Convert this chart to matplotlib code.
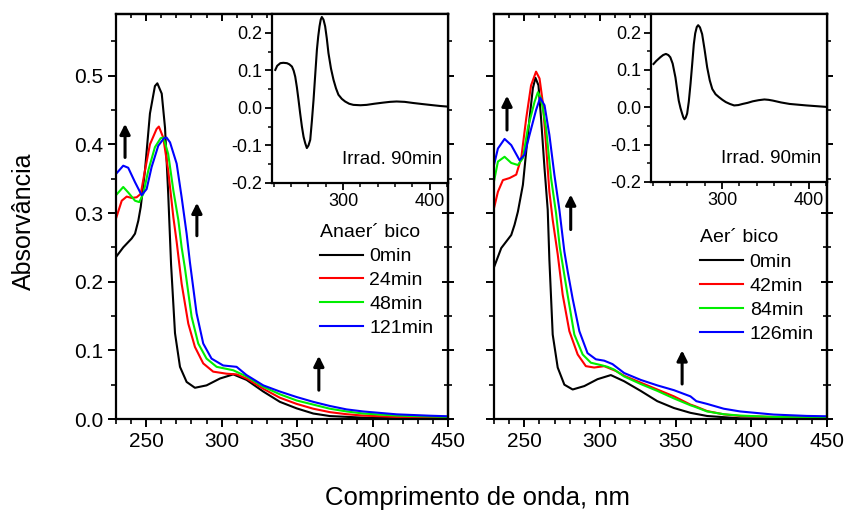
import matplotlib
matplotlib.use("Agg")
import matplotlib.pyplot as plt
from matplotlib.ticker import MultipleLocator, FormatStrFormatter

plt.rcParams['font.family'] = ['Liberation Sans', 'DejaVu Sans']
plt.rcParams['axes.linewidth'] = 1.6

# ---- dados (nm, absorvancia) ----
# painel esquerdo: anaerobico
an_0_wl = [230, 234.8, 240.4, 242.6, 244.8, 246.4, 249.2, 252.5, 255.8, 257.4, 260.3, 262.5, 264.6, 266.5,
           269.1, 272.4, 276.8, 282.3, 290, 298.9, 307.7, 316.5, 327.6, 338.6, 349.7, 360.7, 371.7, 393.8, 420, 450]
an_0_abs = [0.236, 0.25, 0.263, 0.27, 0.289, 0.309, 0.362, 0.445, 0.485, 0.489, 0.474, 0.424, 0.328, 0.225,
            0.125, 0.076, 0.054, 0.0455, 0.049, 0.059, 0.065, 0.057, 0.040, 0.025, 0.0155, 0.008, 0.0043, 0.002, 0.001, 0.0005]

an_24_wl = [230, 233.8, 237.1, 240.4, 243.7, 246.4, 249.2, 252.5, 256.9, 258.4, 261.3, 264.6, 268, 270.2,
            273.5, 277.9, 282.3, 287.8, 294.4, 303.3, 310, 316.5, 327.6, 338.6, 349.7, 360.7, 371.7, 382.8, 393.8, 416, 450]
an_24_abs = [0.292, 0.318, 0.324, 0.322, 0.323, 0.328, 0.362, 0.40, 0.4225, 0.426, 0.41, 0.362, 0.294, 0.258,
             0.197, 0.139, 0.105, 0.081, 0.069, 0.066, 0.065, 0.059, 0.044, 0.031, 0.022, 0.015, 0.010, 0.007, 0.005, 0.003, 0.002]

an_48_wl = [230, 234.8, 238.1, 242.6, 245.4, 248.1, 251.4, 255.8, 259.6, 261.5, 264.6, 268, 271.3, 273.5,
            275.6, 280.1, 284.5, 290, 296.7, 307.7, 316.5, 327.6, 338.6, 349.7, 360.7, 371.7, 382.8, 393.8, 416, 450]
an_48_abs = [0.326, 0.338, 0.33, 0.318, 0.316, 0.328, 0.362, 0.396, 0.409, 0.41, 0.386, 0.333, 0.29, 0.25,
             0.221, 0.149, 0.11, 0.088, 0.076, 0.071, 0.062, 0.047, 0.036, 0.027, 0.021, 0.015, 0.011, 0.008, 0.005, 0.003]

an_121_wl = [230, 234.8, 238.1, 242.6, 247, 250.3, 253.6, 258, 261.8, 263.5, 265.8, 270.2, 273.5, 276.8, 279,
             283.4, 287.8, 293.3, 301, 309.9, 316.5, 327.6, 338.6, 349.7, 360.7, 371.7, 382.8, 393.8, 416, 438, 450]
an_121_abs = [0.357, 0.369, 0.366, 0.345, 0.326, 0.335, 0.367, 0.398, 0.409, 0.41, 0.403, 0.372, 0.323, 0.27, 0.228,
              0.154, 0.11, 0.088, 0.078, 0.076, 0.064, 0.049, 0.040, 0.032, 0.025, 0.019, 0.014, 0.011, 0.0068, 0.0048, 0.004]

# painel direito: aerobico
ae_0_wl = [230, 234.8, 241.4, 243.6, 245.8, 249.1, 251.3, 253.5, 255.7, 257.4, 259.4, 261.1, 263.4, 265.5, 266.6,
           268.8, 272.1, 276.5, 282, 289.7, 298.4, 307.2, 316, 326.9, 337.9, 348.9, 359.8, 370.8, 392.7, 450]
ae_0_abs = [0.221, 0.249, 0.268, 0.283, 0.302, 0.341, 0.39, 0.438, 0.482, 0.497, 0.486, 0.438, 0.365, 0.305, 0.232,
            0.123, 0.075, 0.050, 0.043, 0.048, 0.058, 0.064, 0.055, 0.041, 0.026, 0.016, 0.009, 0.0044, 0.001, 0.0]

ae_42_wl = [230, 232.6, 235.9, 240.3, 244.7, 248, 251.3, 254.5, 257.8, 260.1, 262.2, 264.4, 266.6, 268.8, 272.1,
            275.4, 279.8, 285.3, 290.7, 296.2, 302.8, 310.5, 316, 326.9, 337.9, 348.9, 359.8, 362.5, 370.8, 381.8,
            392.7, 414.7, 450]
ae_42_abs = [0.307, 0.331, 0.348, 0.351, 0.356, 0.38, 0.438, 0.486, 0.506, 0.496, 0.462, 0.399, 0.331, 0.29, 0.24,
             0.181, 0.128, 0.094, 0.077, 0.075, 0.077, 0.070, 0.063, 0.053, 0.043, 0.033, 0.021, 0.019, 0.0116, 0.0068,
             0.0044, 0.003, 0.002]

ae_84_wl = [230, 232.6, 237, 241.4, 245.8, 249.1, 252.4, 256.8, 259, 261.1, 264.4, 267.7, 271, 273.5, 278.7,
            283.1, 288.6, 294, 301.7, 305, 309.4, 316, 326.9, 337.9, 348.9, 359.8, 362.5, 370.8, 381.8, 392.7, 414.7, 450]
ae_84_abs = [0.346, 0.375, 0.382, 0.373, 0.37, 0.38, 0.424, 0.462, 0.476, 0.467, 0.424, 0.351, 0.30, 0.25, 0.18,
             0.123, 0.094, 0.082, 0.078, 0.076, 0.072, 0.062, 0.051, 0.041, 0.030, 0.020, 0.018, 0.011, 0.007, 0.005, 0.003, 0.002]

ae_126_wl = [230, 232.6, 237, 241.4, 246.9, 250.2, 253.5, 257.8, 260.5, 263.4, 266.6, 269.9, 273.2, 276.5, 278.7,
             282, 286.4, 291.8, 297.3, 302.8, 308.3, 316, 326.9, 337.9, 348.9, 359.8, 363.7, 370.8, 381.8, 392.7,
             414.7, 436.6, 450]
ae_126_abs = [0.37, 0.394, 0.408, 0.399, 0.377, 0.385, 0.414, 0.45, 0.468, 0.457, 0.414, 0.356, 0.305, 0.244, 0.215,
              0.175, 0.128, 0.096, 0.087, 0.085, 0.080, 0.067, 0.057, 0.049, 0.042, 0.033, 0.026, 0.022, 0.015, 0.011,
              0.0065, 0.0045, 0.004]

# insets: espectro diferenca, irradiacao 90 min
in_an_wl = [221.8, 224, 227.6, 231, 235.3, 238, 241, 243, 244.8, 246.7, 248.6, 250.5, 252.5, 254.4, 256.3, 258.2,
            260.1, 262.1, 264, 265.9, 267.9, 269.8, 271.3, 272.8, 274.2, 275.5, 277.4, 279.3, 281.2, 283.1, 286,
            288.9, 291.8, 294.6, 298.5, 302.3, 307, 311.8, 320, 327.2, 336, 346.3, 354, 361.7, 371, 380.8, 392,
            403.8, 412, 420]
in_an_val = [0.101, 0.112, 0.119, 0.120, 0.119, 0.116, 0.110, 0.099, 0.083, 0.055, 0.021, -0.015, -0.05, -0.077,
             -0.094, -0.107, -0.100, -0.085, -0.035, 0.021, 0.09, 0.155, 0.19, 0.217, 0.235, 0.242, 0.235, 0.217,
             0.185, 0.146, 0.105, 0.075, 0.052, 0.035, 0.024, 0.017, 0.011, 0.008, 0.007, 0.008, 0.011, 0.014,
             0.016, 0.017, 0.016, 0.013, 0.010, 0.007, 0.005, 0.0035]

in_ae_wl = [220.9, 224, 228.7, 232, 235.2, 238, 240.3, 243, 246.2, 248, 250, 252, 253.9, 255.3, 256.6, 258, 259.7,
            261.6, 263.6, 265.5, 267.4, 269, 270.8, 272.4, 274.5, 277, 279.8, 282.8, 285.8, 288.7, 292.5, 296.5,
            300.4, 304.3, 309, 313.9, 318.8, 323.7, 329.5, 335.3, 342, 348.8, 353.6, 358.5, 368, 377.9, 387.6,
            397.3, 409, 420.6]
in_ae_val = [0.116, 0.124, 0.134, 0.140, 0.143, 0.140, 0.134, 0.117, 0.080, 0.050, 0.018, -0.002, -0.017, -0.027,
             -0.032, -0.028, -0.017, 0.015, 0.063, 0.115, 0.169, 0.198, 0.215, 0.220, 0.214, 0.196, 0.155, 0.107,
             0.072, 0.049, 0.035, 0.027, 0.020, 0.014, 0.009, 0.005, 0.006, 0.009, 0.012, 0.016, 0.019, 0.021,
             0.020, 0.018, 0.013, 0.009, 0.007, 0.005, 0.003, 0.001]

cores = ['black', '#ff0000', '#00ee00', '#0000ff']
rot_an = ['0min', '24min', '48min', '121min']
rot_ae = ['0min', '42min', '84min', '126min']

# setas (x, y_inicio, y_fim)
setas_an = [(236, 0.381, 0.430), (283.6, 0.267, 0.315), (364.4, 0.042, 0.092)]
setas_ae = [(238.6, 0.421, 0.471), (280.7, 0.276, 0.327), (354.3, 0.051, 0.100)]

fig = plt.figure(figsize=(8.46, 5.14), dpi=100)


def eixo_principal(pos, series, rotulos, titulo, setas, leg_pos, mostrar_y):
    ax = fig.add_axes(pos)
    for (wl, ab), cor, rot in zip(series, cores, rotulos):
        ax.plot(wl, ab, color=cor, lw=1.5, label=rot)
    ax.set_xlim(230, 450)
    ax.set_ylim(0, 0.59)
    ax.xaxis.set_major_locator(MultipleLocator(50))
    ax.xaxis.set_minor_locator(MultipleLocator(10))
    ax.yaxis.set_major_locator(MultipleLocator(0.1))
    ax.yaxis.set_minor_locator(MultipleLocator(0.05))
    ax.yaxis.set_major_formatter(FormatStrFormatter('%.1f'))
    ax.tick_params(which='major', direction='out', length=6, width=1.4, labelsize=15, pad=3)
    ax.tick_params(which='minor', direction='out', length=3.5, width=1.2)
    if not mostrar_y:
        ax.tick_params(axis='y', labelleft=False)
    # ticks espelhados em cima / direita
    sx = ax.secondary_xaxis('top')
    sx.xaxis.set_major_locator(MultipleLocator(50))
    sx.xaxis.set_minor_locator(MultipleLocator(10))
    sx.tick_params(which='major', direction='in', length=5, width=1.4, labeltop=False)
    sx.tick_params(which='minor', direction='in', length=3, width=1.2)
    sy = ax.secondary_yaxis('right')
    sy.yaxis.set_major_locator(MultipleLocator(0.1))
    sy.yaxis.set_minor_locator(MultipleLocator(0.05))
    sy.tick_params(which='major', direction='inout', length=8, width=1.4, labelright=False)
    sy.tick_params(which='minor', direction='inout', length=6, width=1.2)
    for x, y0, y1 in setas:
        ax.annotate('', xy=(x, y1), xytext=(x, y0),
                    arrowprops=dict(arrowstyle='-|>', mutation_scale=15, lw=2.2, color='k',
                                    shrinkA=0, shrinkB=0))
    leg = ax.legend(loc='upper left', bbox_to_anchor=leg_pos, frameon=False, fontsize=14,
                    title=titulo, title_fontsize=14, alignment='left', handlelength=2.2,
                    handletextpad=0.35, labelspacing=0.32, borderpad=0, borderaxespad=0)
    leg._legend_box.sep = 5
    return ax


def inset(pos, wl, val):
    ax = fig.add_axes(pos, zorder=3)
    ax.set_facecolor('white')
    ax.plot(wl, val, color='black', lw=1.5)
    ax.set_xlim(218, 421)
    ax.set_ylim(-0.2, 0.25)
    ax.xaxis.set_major_locator(MultipleLocator(100))
    ax.xaxis.set_minor_locator(MultipleLocator(20))
    ax.yaxis.set_major_locator(MultipleLocator(0.1))
    ax.yaxis.set_minor_locator(MultipleLocator(0.05))
    ax.yaxis.set_major_formatter(FormatStrFormatter('%.1f'))
    ax.tick_params(which='major', direction='out', length=5, width=1.3, labelsize=13, pad=2)
    ax.tick_params(which='minor', direction='out', length=3, width=1.1)
    ax.text(0.965, 0.14, 'Irrad. 90min', transform=ax.transAxes, ha='right', va='center', fontsize=13.5)
    return ax


eixo_principal([0.1371, 0.1848, 0.3925, 0.788],
               [(an_0_wl, an_0_abs), (an_24_wl, an_24_abs), (an_48_wl, an_48_abs), (an_121_wl, an_121_abs)],
               rot_an, 'Anaer\u00b4 bico', setas_an, (0.614, 0.482), True)
eixo_principal([0.5839, 0.1848, 0.3936, 0.788],
               [(ae_0_wl, ae_0_abs), (ae_42_wl, ae_42_abs), (ae_84_wl, ae_84_abs), (ae_126_wl, ae_126_abs)],
               rot_ae, 'Aer\u00b4 bico', setas_ae, (0.619, 0.468), False)

inset([0.3215, 0.644, 0.2081, 0.3288], in_an_wl, in_an_val)
inset([0.7695, 0.646, 0.2080, 0.3268], in_ae_wl, in_ae_val)

fig.text(0.028, 0.570, 'Absorv\u00e2ncia', rotation=90, ha='center', va='center', fontsize=18)
fig.text(0.564, 0.031, 'Comprimento de onda, nm', ha='center', va='center', fontsize=18.5)

fig.savefig('out.png', dpi=100)
